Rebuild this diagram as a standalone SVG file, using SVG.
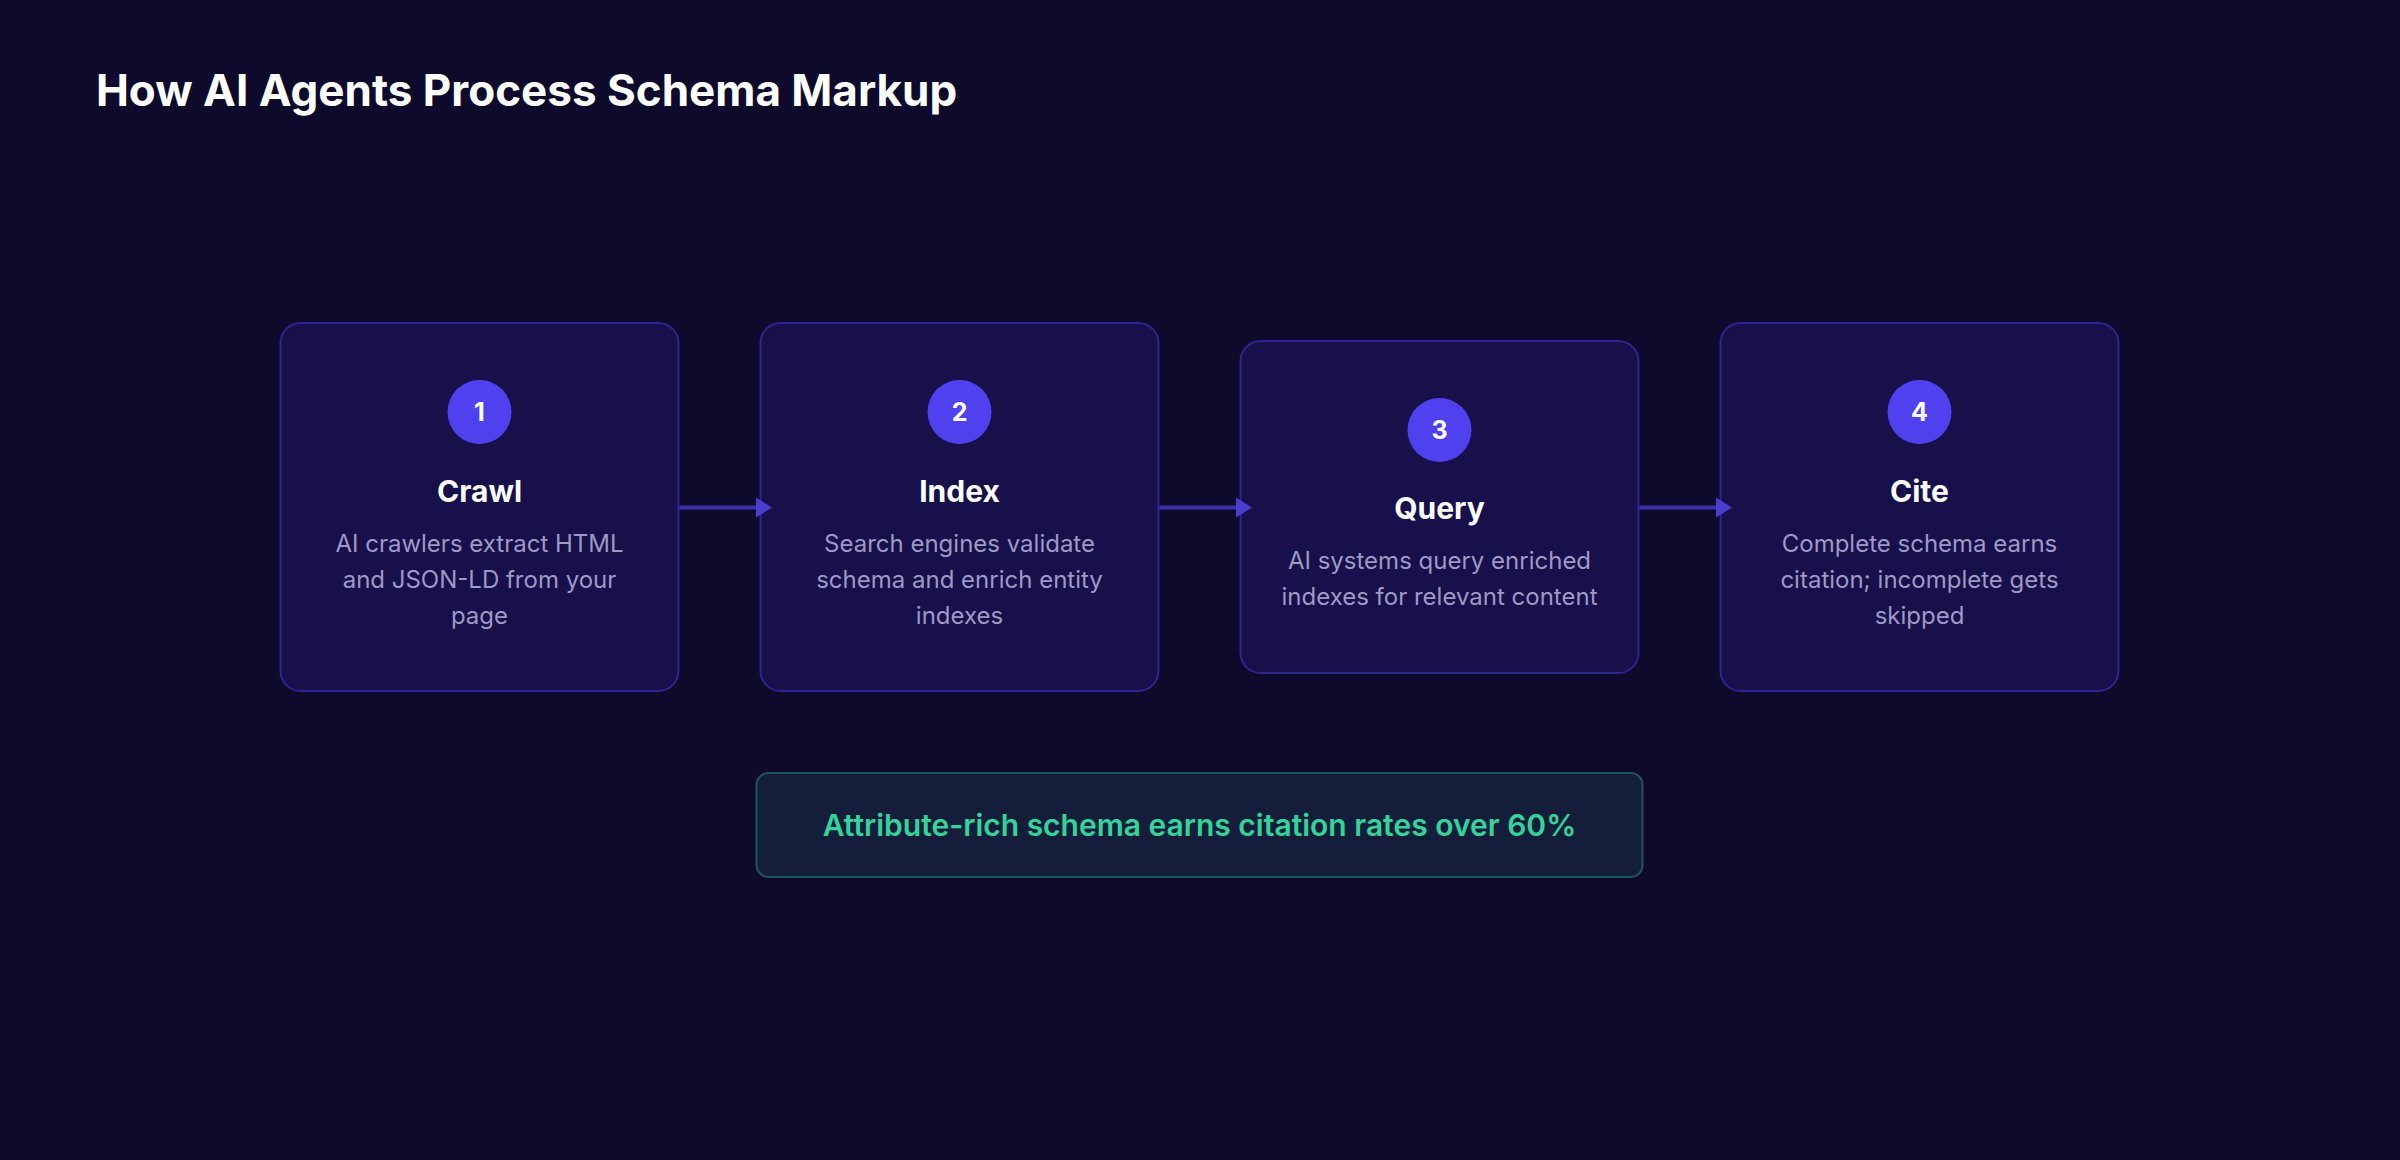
<svg xmlns="http://www.w3.org/2000/svg" width="2400" height="1160" viewBox="0 0 2400 1160">
<defs>
<style>
.bg{fill:#0d0a2b}
.card{fill:#17104a;stroke:#2e2590;stroke-width:2}
.badge{fill:#5041ee}
.num{font-family:Inter,"Liberation Sans",sans-serif;font-weight:700;font-size:25px;fill:#ffffff;text-anchor:middle}
.ttl{font-family:Inter,"Liberation Sans",sans-serif;font-weight:700;font-size:30px;fill:#ffffff;text-anchor:middle}
.desc{font-family:Inter,"Liberation Sans",sans-serif;font-weight:400;font-size:24px;fill:#9e99c5;text-anchor:middle}
.head{font-family:Inter,"Liberation Sans",sans-serif;font-weight:700;font-size:44px;fill:#ffffff}
.conn{stroke:#3a30ad;stroke-width:4;fill:none}
.note{fill:#141e3b;stroke:#1e5658;stroke-width:2}
.notetxt{font-family:Inter,"Liberation Sans",sans-serif;font-weight:600;font-size:30px;fill:#34d399;text-anchor:middle}
</style>
<marker id="arr" viewBox="0 0 16 20" refX="0" refY="10" markerWidth="16" markerHeight="20" markerUnits="userSpaceOnUse" orient="auto">
<path d="M0,0 L16,10 L0,20 Z" fill="#4a3ed0"/>
</marker>
</defs>
<rect class="bg" x="0" y="0" width="2400" height="1160"/>
<text class="head" x="96" y="106">How AI Agents Process Schema Markup</text>

<g id="node-crawl">
<rect class="card" x="280.5" y="323" width="398" height="368" rx="20"/>
<circle class="badge" cx="479.5" cy="412" r="32"/>
<text class="num" x="479.5" y="421">1</text>
<text class="ttl" x="479.5" y="502">Crawl</text>
<text class="desc" x="479.5" y="552">AI crawlers extract HTML</text>
<text class="desc" x="479.5" y="588">and JSON-LD from your</text>
<text class="desc" x="479.5" y="624">page</text>
</g>

<g id="node-index">
<rect class="card" x="760.5" y="323" width="398" height="368" rx="20"/>
<circle class="badge" cx="959.5" cy="412" r="32"/>
<text class="num" x="959.5" y="421">2</text>
<text class="ttl" x="959.5" y="502">Index</text>
<text class="desc" x="959.5" y="552">Search engines validate</text>
<text class="desc" x="959.5" y="588">schema and enrich entity</text>
<text class="desc" x="959.5" y="624">indexes</text>
</g>

<g id="node-query">
<rect class="card" x="1240.5" y="341" width="398" height="332" rx="20"/>
<circle class="badge" cx="1439.5" cy="430" r="32"/>
<text class="num" x="1439.5" y="439">3</text>
<text class="ttl" x="1439.5" y="519">Query</text>
<text class="desc" x="1439.5" y="569">AI systems query enriched</text>
<text class="desc" x="1439.5" y="605">indexes for relevant content</text>
</g>

<g id="node-cite">
<rect class="card" x="1720.5" y="323" width="398" height="368" rx="20"/>
<circle class="badge" cx="1919.5" cy="412" r="32"/>
<text class="num" x="1919.5" y="421">4</text>
<text class="ttl" x="1919.5" y="502">Cite</text>
<text class="desc" x="1919.5" y="552">Complete schema earns</text>
<text class="desc" x="1919.5" y="588">citation; incomplete gets</text>
<text class="desc" x="1919.5" y="624">skipped</text>
</g>

<g id="connectors">
<line class="conn" x1="679.5" y1="507.5" x2="756" y2="507.5" marker-end="url(#arr)"/>
<line class="conn" x1="1159.5" y1="507.5" x2="1236" y2="507.5" marker-end="url(#arr)"/>
<line class="conn" x1="1639.5" y1="507.5" x2="1716" y2="507.5" marker-end="url(#arr)"/>
</g>

<g id="node-note">
<rect class="note" x="756.5" y="773" width="886" height="104" rx="12"/>
<text class="notetxt" x="1199.5" y="836">Attribute-rich schema earns citation rates over 60%</text>
</g>
</svg>
